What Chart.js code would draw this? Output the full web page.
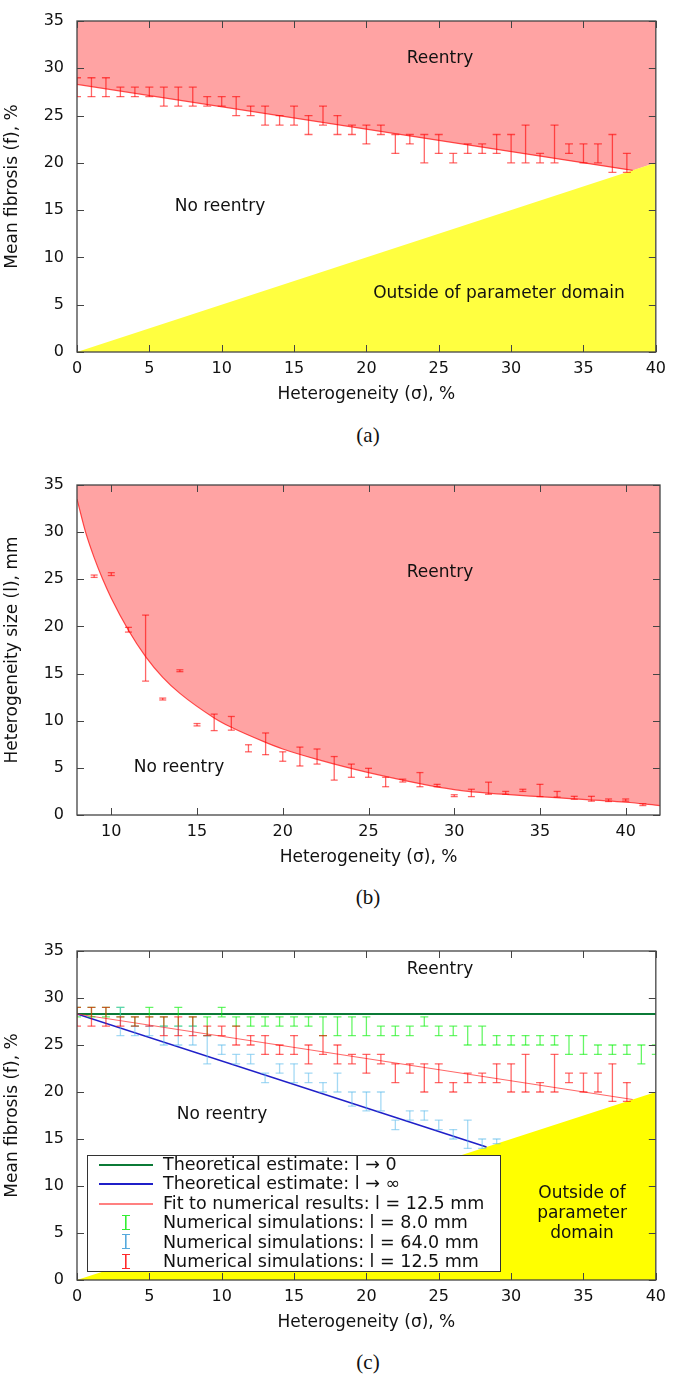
<!DOCTYPE html>
<html lang="en">
<head>
<meta charset="UTF-8">
<title>Reentry vs fibrosis and heterogeneity</title>
<script src="https://cdn.jsdelivr.net/npm/chart.js@4.4.1/dist/chart.umd.min.js"></script>
<style>
  body { margin: 0; background: #fff; }
  #page { position: relative; width: 675px; height: 1380px; overflow: hidden; font-family: 'DejaVu Sans', sans-serif; color: #111; }
  canvas { position: absolute; left: 0; }
  .note { position: absolute; font-size: 17px; line-height: 1; white-space: nowrap; transform: translate(-50%, -50%); text-align: center; }
  .letter { position: absolute; left: 318px; width: 100px; text-align: center; font-family: 'Liberation Serif', serif; font-size: 21px; line-height: 20px; }
  #legendC { position: absolute; left: 87px; top: 1155px; width: 414px; height: 117px; box-sizing: border-box; border: 1px solid #333; background: #fff; font-size: 17.5px; }
  #legendC .row { position: absolute; left: 0; height: 19.4px; line-height: 19.4px; padding-left: 75px; white-space: nowrap; }
  .sym-line { position: absolute; left: 11px; top: 9px; width: 54px; border-top: 2px solid currentColor; }
  .sym-bar { position: absolute; left: 34px; top: 1.5px; width: 8px; height: 13px; border-top: 1.6px solid currentColor; border-bottom: 1.6px solid currentColor;
             background: linear-gradient(currentColor, currentColor) center / 1.6px 100% no-repeat; }
</style>
</head>
<body>
<div id="page">
  <canvas id="chartA" width="675" height="410" style="top:0"></canvas>
  <canvas id="chartB" width="675" height="409" style="top:464px"></canvas>
  <canvas id="chartC" width="675" height="408" style="top:930px"></canvas>

  <div class="note" style="left:440px; top:57px">Reentry</div>
  <div class="note" style="left:220px; top:205px">No reentry</div>
  <div class="note" style="left:499px; top:292px">Outside of parameter domain</div>
  <div class="letter" style="top:425px">(a)</div>

  <div class="note" style="left:440px; top:571px">Reentry</div>
  <div class="note" style="left:179px; top:766px">No reentry</div>
  <div class="letter" style="top:887px">(b)</div>

  <div class="note" style="left:440px; top:968px">Reentry</div>
  <div class="note" style="left:222px; top:1113px">No reentry</div>
  <div class="note" style="left:582px; top:1212px; line-height:20px">Outside of<br>parameter<br>domain</div>
  <div id="legendC"></div>
  <div class="letter" style="top:1352px">(c)</div>
</div>

<script>
    // (a) and (c): simulations with l = 12.5 mm
    const sigmaA = [0,1,2,3,4,5,6,7,8,9,10,11,12,13,14,15,16,17,18,19,20,21,22,23,24,25,26,27,28,29,30,31,32,33,34,35,36,37,38];
    const fibLowA  = [27,27,27,27,27,27,26,26,26,26,26,25,25,24,24,24,23,24,23,23,22,23,21,22,20,21,20,21,21,21,20,20,20,20,21,20,20,19,19];
    const fibHighA = [29,29,29,28,28,28,28,28,28,27,27,27,26,26,25,26,25,26,25,24,24,24,23,23,23,23,21,22,22,23,23,24,21,24,22,22,22,23,21];

    // fitted threshold line and edge of the parameter domain
    const fitSigma = [0, 38.4];
    const fitFib = [28.3, 19.2];
    const domainSigma = [0, 40];
    const domainFib = [0, 20];

    // (b): critical heterogeneity size
    const sigmaB = [9,10,11,12,13,14,15,16,17,18,19,20,21,22,23,24,25,26,27,28,29,30,31,32,33,34,35,36,37,38,39,40,41];
    const sizeLowB  = [25.2,25.4,19.4,14.2,12.2,15.2,9.45,8.95,9.0,6.7,6.4,5.7,5.2,5.4,3.7,4.0,4.0,3.0,3.5,3.0,3.0,1.95,1.95,2.2,2.2,2.5,1.95,1.9,1.67,1.47,1.43,1.47,1.0];
    const sizeHighB = [25.45,25.7,19.9,21.2,12.4,15.4,9.7,10.7,10.45,7.45,8.7,6.7,7.2,7.0,6.2,5.4,4.95,4.0,3.8,4.5,3.25,2.15,2.73,3.48,2.5,2.73,3.25,2.5,1.98,1.98,1.7,1.7,1.2];
    const curveSigmaB = [8, 8.5, 9, 9.5, 10, 11, 12, 13, 14, 16, 17, 19, 20, 22, 25, 30, 35, 40, 42];
    const curveSizeB  = [33.5, 30.0, 27.3, 25.0, 23.0, 19.6, 16.8, 14.6, 12.9, 10.3, 9.3, 7.7, 7.0, 5.9, 4.5, 2.7, 1.95, 1.35, 1.0];

    // (c): l = 8.0 mm and l = 64.0 mm simulations, theoretical limits
    const sigmaG = [0,1,2,3,4,5,6,7,8,9,10,11,12,13,14,15,16,17,18,19,20,21,22,23,24,25,26,27,28,29,30,31,32,33,34,35,36,37,38,39,40];
    const fibLowG  = [28,28,28,28,27,28,27,27,27,26,28,27,27,27,27,27,27,26,26,26,26,26,26,26,27,26,26,25,25,25,25,25,25,25,24,24,24,24,24,23,24];
    const fibHighG = [29,29,29,29,28,29,28,29,28,28,29,28,28,28,28,28,28,28,28,28,28,27,27,27,28,27,27,27,27,26,26,26,26,26,26,26,25,25,25,25,25];
    const sigmaL = [3,4,5,6,7,8,9,10,11,12,13,14,15,16,17,18,19,20,21,22,23,24,25,26,27,28,29];
    const fibLowL  = [26,26,26,25,25,25,23,24,23,23,21,22,21,21,20,20,18.5,18,18,16,17,17,16,15,14,14,14.5];
    const fibHighL = [29,27,27,27,27,27,26,25,24,24,22,23,23,22,21,22,20,20,20,17,18,18,17,16,17,15,15];
    const zeroSigma = [0, 40];
    const zeroFib = [28.3, 28.3];
    const infSigma = [0, 28.3];
    const infFib = [28.3, 14.15];

    const fibTicks = [0, 5, 10, 15, 20, 25, 30, 35];
    const sigmaTicks = [0, 5, 10, 15, 20, 25, 30, 35, 40];
    const sigmaTicksB = [10, 15, 20, 25, 30, 35, 40];

    const legendLabels = [
        'Theoretical estimate: l \u2192 0',
        'Theoretical estimate: l \u2192 \u221e',
        'Fit to numerical results: l = 12.5 mm',
        'Numerical simulations: l = 8.0 mm',
        'Numerical simulations: l = 64.0 mm',
        'Numerical simulations: l = 12.5 mm'
    ];
    const legendKinds = ['line', 'line', 'line', 'bar', 'bar', 'bar'];
    const legendColors = ['#0b7a36', '#1f1fc8', '#ff8080', '#33ee33', '#55aadd', '#ff2a2a'];

    const PINK = '#ffa3a3';
    const RED_BAR = 'rgba(255,0,0,0.6)';
    const FIT = 'rgba(255,20,20,0.75)';

    Chart.defaults.font.family = "'DejaVu Sans', sans-serif";
    Chart.defaults.color = '#111';

    const pts = (xs, ys) => xs.map((x, i) => ({ x, y: ys[i] }));
    const bars = (xs, lo, hi) => xs.flatMap((x, i) => [{ x, y: lo[i] }, { x, y: hi[i] }, { x, y: null }]);

    function barSet(data, color, cap) {
        return { data, borderColor: color, pointBorderColor: color, pointBackgroundColor: color,
                 borderWidth: 1.3, pointStyle: 'line', pointRadius: cap, pointBorderWidth: 1.3, fill: false, spanGaps: false };
    }
    function lineSet(data, color, width, extra) {
        return Object.assign({ data, borderColor: color, borderWidth: width, pointRadius: 0, fill: false }, extra || {});
    }
    function areaSet(data, color, fill, extra) {
        return Object.assign({ data, borderColor: 'transparent', borderWidth: 0, backgroundColor: color, pointRadius: 0, fill }, extra || {});
    }

    // gnuplot style frame: border plus inward ticks on all four sides
    const frame = {
        id: 'frame',
        afterDatasetsDraw(chart) {
            const { ctx, chartArea: a, scales: { x, y } } = chart;
            ctx.save();
            ctx.strokeStyle = '#444';
            ctx.lineWidth = 1;
            ctx.beginPath();
            x.ticks.forEach(t => {
                const px = Math.round(x.getPixelForValue(t.value)) + 0.5;
                ctx.moveTo(px, a.bottom); ctx.lineTo(px, a.bottom - 7);
                ctx.moveTo(px, a.top); ctx.lineTo(px, a.top + 7);
            });
            y.ticks.forEach(t => {
                const py = Math.round(y.getPixelForValue(t.value)) + 0.5;
                ctx.moveTo(a.left, py); ctx.lineTo(a.left + 7, py);
                ctx.moveTo(a.right, py); ctx.lineTo(a.right - 7, py);
            });
            ctx.stroke();
            ctx.lineWidth = 1.3;
            ctx.strokeRect(a.left, a.top, a.right - a.left, a.bottom - a.top);
            ctx.restore();
        }
    };

    function options(xMin, xMax, xTicks, yTitle) {
        return {
            responsive: false,
            animation: false,
            events: [],
            layout: { padding: { top: 9, right: 15, left: 0, bottom: 0 } },
            plugins: { legend: { display: false }, tooltip: { enabled: false } },
            scales: {
                x: {
                    type: 'linear', min: xMin, max: xMax,
                    afterBuildTicks: s => { s.ticks = xTicks.map(v => ({ value: v })); },
                    afterFit: s => { s.height = 58; },
                    grid: { display: false, drawTicks: false }, border: { display: false },
                    ticks: { padding: 9, font: { size: 16, lineHeight: 1 }, maxRotation: 0 },
                    title: { display: true, text: 'Heterogeneity (\u03c3), %', font: { size: 17 }, padding: { top: 0, bottom: 5 } }
                },
                y: {
                    type: 'linear', min: 0, max: 35,
                    afterBuildTicks: s => { s.ticks = fibTicks.map(v => ({ value: v })); },
                    afterFit: s => { s.width = 77; },
                    grid: { display: false, drawTicks: false }, border: { display: false },
                    ticks: { padding: 13, font: { size: 16, lineHeight: 1 } },
                    title: { display: true, text: yTitle, font: { size: 17 }, padding: { top: 2, bottom: 0 } }
                }
            }
        };
    }

    // (a)
    new Chart(document.getElementById('chartA'), {
        type: 'line',
        data: { datasets: [
            barSet(bars(sigmaA, fibLowA, fibHighA), RED_BAR, 4),
            lineSet(pts(fitSigma, fitFib), FIT, 1.2),
            areaSet(pts(domainSigma, domainFib), '#ffff40', 'start'),
            areaSet(pts(fitSigma.concat(domainSigma[1]), fitFib.concat(domainFib[1])), PINK, 'end')
        ] },
        options: options(0, 40, sigmaTicks, 'Mean fibrosis (f), %'),
        plugins: [frame]
    });

    // (b)
    new Chart(document.getElementById('chartB'), {
        type: 'line',
        data: { datasets: [
            barSet(bars(sigmaB, sizeLowB, sizeHighB), RED_BAR, 3.5),
            areaSet(pts(curveSigmaB, curveSizeB), PINK, 'end',
                    { borderColor: FIT, borderWidth: 1.2, cubicInterpolationMode: 'monotone' })
        ] },
        options: options(8, 42, sigmaTicksB, 'Heterogeneity size (l), mm'),
        plugins: [frame]
    });

    // (c)
    new Chart(document.getElementById('chartC'), {
        type: 'line',
        data: { datasets: [
            barSet(bars(sigmaA, fibLowA, fibHighA), RED_BAR, 4),
            barSet(bars(sigmaL, fibLowL, fibHighL), 'rgba(90,185,235,0.55)', 4),
            barSet(bars(sigmaG, fibLowG, fibHighG), 'rgba(0,240,0,0.6)', 4),
            lineSet(pts(fitSigma, fitFib), 'rgba(255,40,40,0.7)', 1.2),
            lineSet(pts(infSigma, infFib), '#1f1fc8', 1.6),
            lineSet(pts(zeroSigma, zeroFib), '#0b7a36', 2),
            areaSet(pts(domainSigma, domainFib), '#ffff00', 'start')
        ] },
        options: options(0, 40, sigmaTicks, 'Mean fibrosis (f), %'),
        plugins: [frame]
    });

    // legend for (c)
    const box = document.getElementById('legendC');
    legendLabels.forEach((text, i) => {
        const row = document.createElement('div');
        row.className = 'row';
        row.style.top = (i * 19.4 - 1) + 'px';
        const sym = document.createElement('span');
        sym.className = legendKinds[i] === 'line' ? 'sym-line' : 'sym-bar';
        sym.style.color = legendColors[i];
        row.appendChild(sym);
        row.appendChild(document.createTextNode(text));
        box.appendChild(row);
    });
</script>
</body>
</html>
